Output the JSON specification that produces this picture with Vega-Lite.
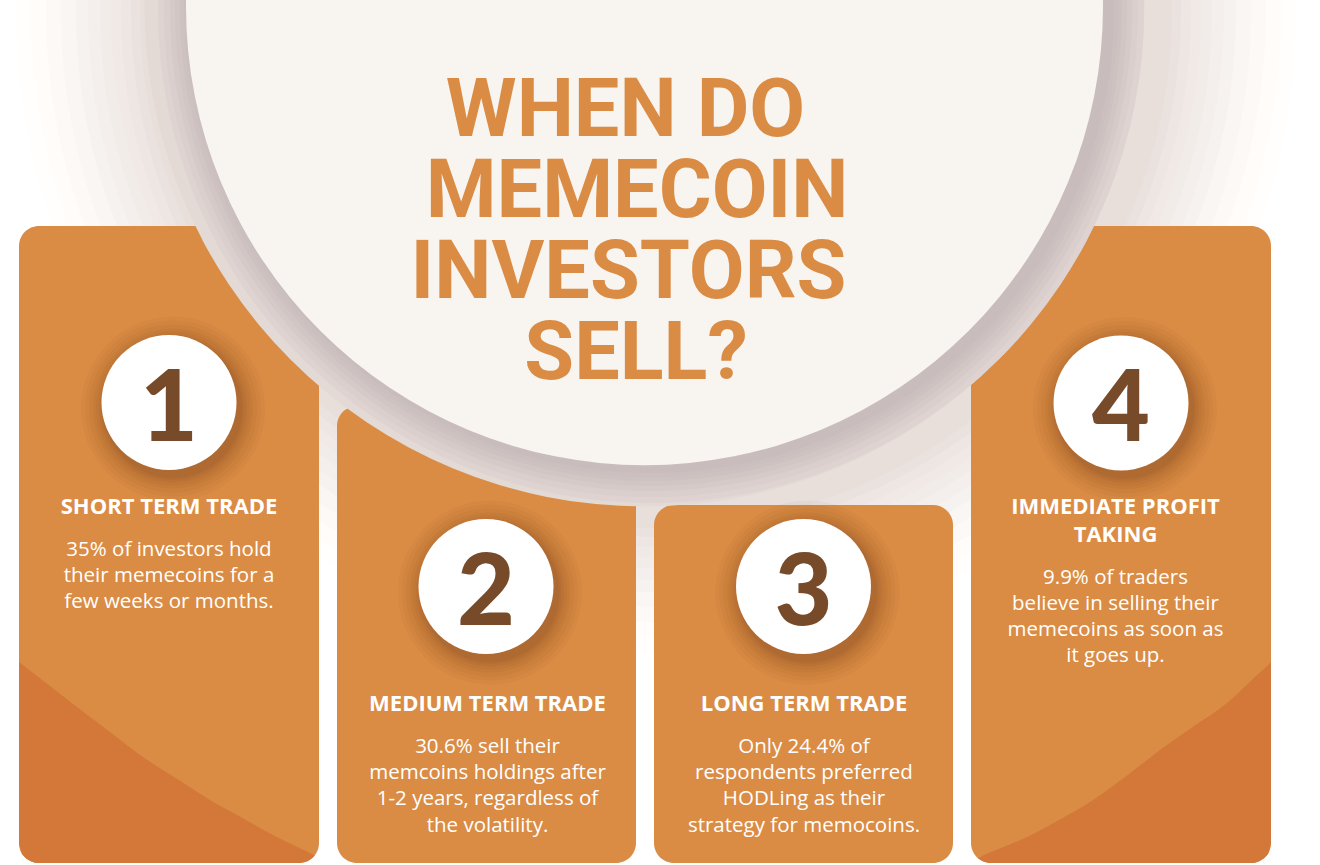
{
  "$schema": "https://vega.github.io/schema/vega-lite/v6.json",
  "width": 1320,
  "height": 865,
  "autosize": {"type": "none"},
  "padding": 0,
  "background": "#FFFFFF",
  "config": {"view": {"stroke": null}},
  "datasets": {
    "halo": [
      {"cx": 656, "cy": 12, "r": 640},
      {"cx": 656, "cy": 12, "r": 625},
      {"cx": 656, "cy": 12, "r": 610},
      {"cx": 656, "cy": 12, "r": 595},
      {"cx": 656, "cy": 12, "r": 580},
      {"cx": 656, "cy": 12, "r": 568},
      {"cx": 656, "cy": 12, "r": 556},
      {"cx": 656, "cy": 12, "r": 545},
      {"cx": 656, "cy": 12, "r": 535},
      {"cx": 656, "cy": 12, "r": 525},
      {"cx": 656, "cy": 12, "r": 516},
      {"cx": 644.5, "cy": 6.5, "r": 500},
      {"cx": 651, "cy": 10, "r": 493},
      {"cx": 651, "cy": 10, "r": 487},
      {"cx": 651, "cy": 10, "r": 481},
      {"cx": 651, "cy": 10, "r": 476},
      {"cx": 651, "cy": 10, "r": 471},
      {"cx": 651, "cy": 10, "r": 467},
      {"cx": 651, "cy": 10, "r": 463}
    ],
    "disk": [{"cx": 644.5, "cy": 6.5, "r": 458.5}],
    "cards": [
      {"step": 1, "num": "1", "left": 19, "right": 319, "top": 226, "bottom": 863, "cx": 169, "cy": 402.5, "numBase": 440.5},
      {"step": 2, "num": "2", "left": 337, "right": 636, "top": 406, "bottom": 863, "cx": 486, "cy": 586.5, "numBase": 624.5},
      {"step": 3, "num": "3", "left": 654, "right": 953, "top": 505, "bottom": 863, "cx": 803.5, "cy": 586.5, "numBase": 624.5},
      {"step": 4, "num": "4", "left": 971, "right": 1271, "top": 226, "bottom": 863, "cx": 1121, "cy": 403, "numBase": 441}
    ],
    "wedges": [
      {"card": 1, "px": 19, "edge": 662, "floor": 843},
      {"card": 1, "px": 21, "edge": 663.5, "floor": 851.7},
      {"card": 1, "px": 24, "edge": 665.8, "floor": 856.2},
      {"card": 1, "px": 29, "edge": 669.7, "floor": 860.3},
      {"card": 1, "px": 34, "edge": 673.6, "floor": 862.4},
      {"card": 1, "px": 39, "edge": 677.5, "floor": 863},
      {"card": 1, "px": 77, "edge": 707, "floor": 863},
      {"card": 1, "px": 110, "edge": 732, "floor": 863},
      {"card": 1, "px": 143, "edge": 757, "floor": 863},
      {"card": 1, "px": 177, "edge": 778.8, "floor": 863},
      {"card": 1, "px": 210, "edge": 800, "floor": 863},
      {"card": 1, "px": 243, "edge": 818.2, "floor": 863},
      {"card": 1, "px": 277, "edge": 837, "floor": 863},
      {"card": 1, "px": 299, "edge": 847.7, "floor": 863},
      {"card": 1, "px": 305, "edge": 850.6, "floor": 862.1},
      {"card": 1, "px": 310, "edge": 853, "floor": 859.7},
      {"card": 1, "px": 313, "edge": 854.5, "floor": 857.3},
      {"card": 1, "px": 314.8, "edge": 855.3, "floor": 855.3},
      {"card": 4, "px": 978, "edge": 858, "floor": 858.2},
      {"card": 4, "px": 981, "edge": 856.7, "floor": 860.3},
      {"card": 4, "px": 985, "edge": 854.6, "floor": 862.1},
      {"card": 4, "px": 991, "edge": 852.1, "floor": 863},
      {"card": 4, "px": 1027, "edge": 837, "floor": 863},
      {"card": 4, "px": 1060, "edge": 819.5, "floor": 863},
      {"card": 4, "px": 1093, "edge": 800, "floor": 863},
      {"card": 4, "px": 1127, "edge": 775.4, "floor": 863},
      {"card": 4, "px": 1160, "edge": 750, "floor": 863},
      {"card": 4, "px": 1193, "edge": 726.8, "floor": 863},
      {"card": 4, "px": 1227, "edge": 703, "floor": 863},
      {"card": 4, "px": 1251, "edge": 680.7, "floor": 863},
      {"card": 4, "px": 1256, "edge": 676, "floor": 862.4},
      {"card": 4, "px": 1261, "edge": 671.5, "floor": 860.3},
      {"card": 4, "px": 1266, "edge": 667, "floor": 856.2},
      {"card": 4, "px": 1269, "edge": 664, "floor": 851.7},
      {"card": 4, "px": 1271, "edge": 662, "floor": 843}
    ],
    "headline": [
      {"text": "WHEN DO", "cx": 625.5, "base": 136},
      {"text": "MEMECOIN", "cx": 637, "base": 217},
      {"text": "INVESTORS", "cx": 628.5, "base": 298},
      {"text": "SELL?", "cx": 636, "base": 379}
    ],
    "lines": [
      {"step": 1, "role": "title", "text": "SHORT TERM TRADE", "cx": 169, "base": 513.5},
      {"step": 1, "role": "body", "text": "35% of investors hold", "cx": 169, "base": 556},
      {"step": 1, "role": "body", "text": "their memecoins for a", "cx": 169, "base": 582},
      {"step": 1, "role": "body", "text": "few weeks or months.", "cx": 169, "base": 608},
      {"step": 2, "role": "title", "text": "MEDIUM TERM TRADE", "cx": 487.5, "base": 710.5},
      {"step": 2, "role": "body", "text": "30.6% sell their", "cx": 487.5, "base": 752.5},
      {"step": 2, "role": "body", "text": "memcoins holdings after", "cx": 487.5, "base": 779},
      {"step": 2, "role": "body", "text": "1-2 years, regardless of", "cx": 487.5, "base": 805},
      {"step": 2, "role": "body", "text": "the volatility.", "cx": 487.5, "base": 831.5},
      {"step": 3, "role": "title", "text": "LONG TERM TRADE", "cx": 804, "base": 710.5},
      {"step": 3, "role": "body", "text": "Only 24.4% of", "cx": 804, "base": 752.5},
      {"step": 3, "role": "body", "text": "respondents preferred", "cx": 804, "base": 779},
      {"step": 3, "role": "body", "text": "HODLing as their", "cx": 804, "base": 805},
      {"step": 3, "role": "body", "text": "strategy for memocoins.", "cx": 804, "base": 831.5},
      {"step": 4, "role": "title", "text": "IMMEDIATE PROFIT", "cx": 1115.5, "base": 514},
      {"step": 4, "role": "title", "text": "TAKING", "cx": 1115.5, "base": 541.5},
      {"step": 4, "role": "body", "text": "9.9% of traders", "cx": 1115.5, "base": 583.5},
      {"step": 4, "role": "body", "text": "believe in selling their", "cx": 1115.5, "base": 610},
      {"step": 4, "role": "body", "text": "memecoins as soon as", "cx": 1115.5, "base": 636},
      {"step": 4, "role": "body", "text": "it goes up.", "cx": 1115.5, "base": 662}
    ]
  },
  "layer": [
    {
      "data": {"name": "halo"},
      "transform": [{"filter": "datum.r > 500"}],
      "mark": {"type": "circle", "opacity": 1, "strokeWidth": 0},
      "encoding": {
        "x": {"field": "cx", "type": "quantitative", "scale": {"type": "linear", "domain": [0, 1320], "nice": false, "zero": false}, "axis": null},
        "y": {"field": "cy", "type": "quantitative", "scale": {"type": "linear", "domain": [0, 865], "reverse": true, "nice": false, "zero": false}, "axis": null},
        "size": {"field": "r", "type": "quantitative", "scale": {"type": "pow", "exponent": 2, "domain": [0, 1000], "range": [0, 4000000]}, "legend": null},
        "color": {"field": "r", "type": "quantitative", "scale": {"domain": [458, 480, 500, 540, 590, 640], "range": ["#C4B8B9", "#D5C9C7", "#E3D9D5", "#EFE8E4", "#F8F5F3", "#FFFFFF"]}, "legend": null}
      }
    },
    {
      "data": {"name": "cards"},
      "mark": {"type": "rect", "cornerRadius": 20, "color": "#DA8C45"},
      "encoding": {
        "x": {"field": "left", "type": "quantitative"},
        "x2": {"field": "right"},
        "y": {"field": "top", "type": "quantitative"},
        "y2": {"field": "bottom"}
      }
    },
    {
      "data": {"name": "wedges"},
      "mark": {"type": "area", "interpolate": "monotone", "orient": "vertical", "color": "#D4783A"},
      "encoding": {
        "x": {"field": "px", "type": "quantitative"},
        "y": {"field": "edge", "type": "quantitative"},
        "y2": {"field": "floor"},
        "detail": {"field": "card", "type": "nominal"}
      }
    },
    {
      "data": {"name": "cards"},
      "mark": {"type": "circle", "size": 33856, "color": "#5A2E0A", "opacity": 0.04, "xOffset": 4, "yOffset": 6},
      "encoding": {"x": {"field": "cx", "type": "quantitative"}, "y": {"field": "cy", "type": "quantitative"}}
    },
    {
      "data": {"name": "cards"},
      "mark": {"type": "circle", "size": 30976, "color": "#5A2E0A", "opacity": 0.04, "xOffset": 4, "yOffset": 6},
      "encoding": {"x": {"field": "cx", "type": "quantitative"}, "y": {"field": "cy", "type": "quantitative"}}
    },
    {
      "data": {"name": "cards"},
      "mark": {"type": "circle", "size": 28224, "color": "#5A2E0A", "opacity": 0.045, "xOffset": 4, "yOffset": 6},
      "encoding": {"x": {"field": "cx", "type": "quantitative"}, "y": {"field": "cy", "type": "quantitative"}}
    },
    {
      "data": {"name": "cards"},
      "mark": {"type": "circle", "size": 25600, "color": "#5A2E0A", "opacity": 0.045, "xOffset": 4, "yOffset": 6},
      "encoding": {"x": {"field": "cx", "type": "quantitative"}, "y": {"field": "cy", "type": "quantitative"}}
    },
    {
      "data": {"name": "cards"},
      "mark": {"type": "circle", "size": 23716, "color": "#5A2E0A", "opacity": 0.05, "xOffset": 4, "yOffset": 6},
      "encoding": {"x": {"field": "cx", "type": "quantitative"}, "y": {"field": "cy", "type": "quantitative"}}
    },
    {
      "data": {"name": "cards"},
      "mark": {"type": "circle", "size": 21904, "color": "#5A2E0A", "opacity": 0.05, "xOffset": 4, "yOffset": 6},
      "encoding": {"x": {"field": "cx", "type": "quantitative"}, "y": {"field": "cy", "type": "quantitative"}}
    },
    {
      "data": {"name": "cards"},
      "mark": {"type": "circle", "size": 20449, "color": "#5A2E0A", "opacity": 0.055, "xOffset": 4, "yOffset": 6},
      "encoding": {"x": {"field": "cx", "type": "quantitative"}, "y": {"field": "cy", "type": "quantitative"}}
    },
    {
      "data": {"name": "cards"},
      "mark": {"type": "circle", "size": 19321, "color": "#5A2E0A", "opacity": 0.06, "xOffset": 4, "yOffset": 6},
      "encoding": {"x": {"field": "cx", "type": "quantitative"}, "y": {"field": "cy", "type": "quantitative"}}
    },
    {
      "data": {"name": "halo"},
      "transform": [{"filter": "datum.r <= 500"}],
      "mark": {"type": "circle", "opacity": 1, "strokeWidth": 0},
      "encoding": {
        "x": {"field": "cx", "type": "quantitative"},
        "y": {"field": "cy", "type": "quantitative"},
        "size": {"field": "r", "type": "quantitative", "legend": null},
        "color": {"field": "r", "type": "quantitative", "legend": null}
      }
    },
    {
      "data": {"name": "disk"},
      "mark": {"type": "circle", "opacity": 1, "color": "#F8F4EF", "strokeWidth": 0},
      "encoding": {
        "x": {"field": "cx", "type": "quantitative"},
        "y": {"field": "cy", "type": "quantitative"},
        "size": {"field": "r", "type": "quantitative", "legend": null}
      }
    },
    {
      "data": {"name": "cards"},
      "mark": {"type": "circle", "size": 18225, "color": "#FFFFFF", "opacity": 1},
      "encoding": {"x": {"field": "cx", "type": "quantitative"}, "y": {"field": "cy", "type": "quantitative"}}
    },
    {
      "data": {"name": "cards"},
      "mark": {"type": "text", "font": "Lato", "fontWeight": 900, "fontSize": 100, "color": "#774B2A", "align": "center", "baseline": "alphabetic"},
      "encoding": {"x": {"field": "cx", "type": "quantitative"}, "y": {"field": "numBase", "type": "quantitative"}, "text": {"field": "num"}}
    },
    {
      "data": {"name": "headline"},
      "mark": {"type": "text", "font": "Roboto", "fontWeight": "bold", "fontSize": 81, "color": "#DA8C45", "align": "center", "baseline": "alphabetic"},
      "encoding": {"x": {"field": "cx", "type": "quantitative"}, "y": {"field": "base", "type": "quantitative"}, "text": {"field": "text"}}
    },
    {
      "data": {"name": "lines"},
      "transform": [{"filter": "datum.role === 'title'"}],
      "mark": {"type": "text", "font": "Open Sans", "fontWeight": "bold", "fontSize": 22, "color": "#FFFFFF", "align": "center", "baseline": "alphabetic"},
      "encoding": {"x": {"field": "cx", "type": "quantitative"}, "y": {"field": "base", "type": "quantitative"}, "text": {"field": "text"}}
    },
    {
      "data": {"name": "lines"},
      "transform": [{"filter": "datum.role === 'body'"}],
      "mark": {"type": "text", "font": "Open Sans", "fontSize": 20.5, "color": "#FFFFFF", "align": "center", "baseline": "alphabetic"},
      "encoding": {"x": {"field": "cx", "type": "quantitative"}, "y": {"field": "base", "type": "quantitative"}, "text": {"field": "text"}}
    }
  ]
}
